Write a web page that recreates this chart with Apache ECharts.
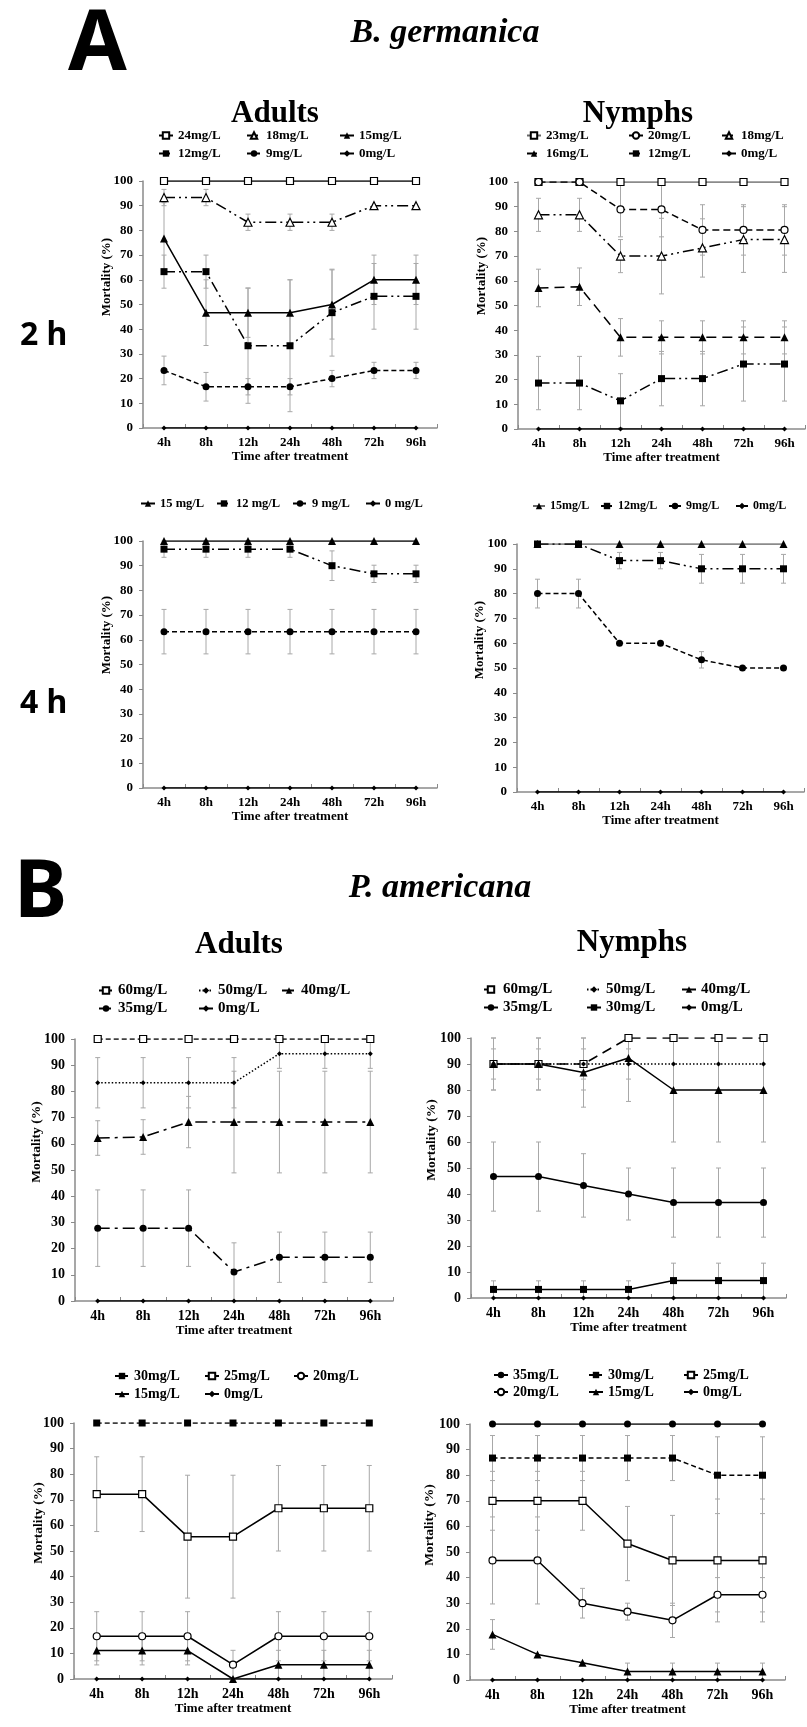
<!DOCTYPE html>
<html><head><meta charset="utf-8">
<script src="https://cdn.jsdelivr.net/npm/echarts@6/dist/echarts.min.js"></script>
<style>html,body{margin:0;padding:0;background:#fff}#c{width:807px;height:1727px}</style>
</head><body><div id="c"></div><script>
// ---------- data ----------
const categories = ['4h','8h','12h','24h','48h','72h','96h'];

// A. B. germanica — Adults, 2 h
const gA2_24 = [100,100,100,100,100,100,100];
const gA2_18 = [93.3,93.3,83.3,83.3,83.3,90,90];
const gA2_18e = [3.3,3.3,3.3,3.3,3.3,0,0];
const gA2_15 = [76.7,46.7,46.7,46.7,50,60,60];
const gA2_15e = [14.5,13.3,10,13.3,14,10,10];
const gA2_12 = [63.3,63.3,33.3,33.3,46.7,53.3,53.3];
const gA2_12e = [6.7,6.7,23.3,26.7,17.6,13.3,13.3];
const gA2_9 = [23.3,16.7,16.7,16.7,20,23.3,23.3];
const gA2_9e = [5.8,5.8,3.3,3.3,3.3,3.3,3.3];
const gA2_0 = [0,0,0,0,0,0,0];

// A. B. germanica — Nymphs, 2 h
const gN2_23 = [100,100,100,100,100,100,100];
const gN2_20 = [100,100,88.9,88.9,80.6,80.6,80.6];
const gN2_20e = [0,0,11.1,11.1,10.2,10.2,10.2];
const gN2_18 = [86.7,86.7,70,70,73.3,76.7,76.7];
const gN2_18e = [6.7,6.7,6.7,15.3,11.8,13.3,13.3];
const gN2_16 = [57.1,57.6,37.1,37.1,37.1,37.1,37.1];
const gN2_16e = [7.6,7.6,7.6,6.7,6.7,6.7,6.7];
const gN2_12 = [18.6,18.6,11.4,20.4,20.4,26.3,26.3];
const gN2_12e = [10.8,10.8,11,11,11,15,15];
const gN2_0 = [0,0,0,0,0,0,0];

// A. B. germanica — Adults, 4 h
const gA4_15 = [100,100,100,100,100,100,100];
const gA4_12 = [96.7,96.7,96.7,96.7,90,86.7,86.7];
const gA4_12e = [3.3,3.3,3.3,3.3,6,3.5,3.5];
const gA4_9 = [63.3,63.3,63.3,63.3,63.3,63.3,63.3];
const gA4_9e = [9,9,9,9,9,9,9];
const gA4_0 = [0,0,0,0,0,0,0];

// A. B. germanica — Nymphs, 4 h
const gN4_15 = [100,100,100,100,100,100,100];
const gN4_12 = [100,100,93.3,93.3,90,90,90];
const gN4_12e = [0,0,3.3,3.3,5.8,5.8,5.8];
const gN4_9 = [80,80,60,60,53.3,50,50];
const gN4_9e = [5.8,5.8,0,0,3.3,0,0];
const gN4_0 = [0,0,0,0,0,0,0];

// B. P. americana — Adults (upper)
const pA1_60 = [100,100,100,100,100,100,100];
const pA1_50 = [83.3,83.3,83.3,83.3,94.4,94.4,94.4];
const pA1_50e = [9.6,9.6,9.6,9.6,5.6,5.6,5.6];
const pA1_40 = [62.2,62.6,68.3,68.3,68.3,68.3,68.3];
const pA1_40e = [6.6,6.6,9.8,19.4,19.4,19.4,19.4];
const pA1_35 = [27.8,27.8,27.8,11.1,16.7,16.7,16.7];
const pA1_35e = [14.6,14.6,14.6,11.1,9.6,9.6,9.6];
const pA1_0 = [0,0,0,0,0,0,0];

// B. P. americana — Nymphs (upper)
const pN1_60 = [90,90,90,100,100,100,100];
const pN1_60e = [10,10,10,0,0,0,0];
const pN1_50 = [90,90,90,90,90,90,90];
const pN1_50e = [5.8,5.8,5.8,5.8,0,0,0];
const pN1_40 = [90,90,86.7,92.3,80,80,80];
const pN1_40e = [10,10,13.3,16.7,20,20,20];
const pN1_35 = [46.7,46.7,43.3,40,36.7,36.7,36.7];
const pN1_35e = [13.3,13.3,12.2,10,13.3,13.3,13.3];
const pN1_30 = [3.3,3.3,3.3,3.3,6.7,6.7,6.7];
const pN1_30e = [3.3,3.3,3.3,3.3,6.7,6.7,6.7];
const pN1_0 = [0,0,0,0,0,0,0];

// B. P. americana — Adults (lower)
const pA2_30 = [100,100,100,100,100,100,100];
const pA2_25 = [72.2,72.2,55.6,55.6,66.7,66.7,66.7];
const pA2_25e = [14.6,14.6,24,24,16.7,16.7,16.7];
const pA2_20 = [16.7,16.7,16.7,5.6,16.7,16.7,16.7];
const pA2_20e = [9.6,9.6,9.6,5.6,9.6,9.6,9.6];
const pA2_15 = [11.1,11.1,11.1,0,5.6,5.6,5.6];
const pA2_15e = [5.6,5.6,5.6,0,5.6,5.6,5.6];
const pA2_0 = [0,0,0,0,0,0,0];

// B. P. americana — Nymphs (lower)
const pN2_35 = [100,100,100,100,100,100,100];
const pN2_30 = [86.7,86.7,86.7,86.7,86.7,80,80];
const pN2_30e = [8.8,8.8,8.8,8.8,8.8,15,15];
const pN2_25 = [70,70,70,53.3,46.7,46.7,46.7];
const pN2_25e = [11.5,11.5,11.5,14.5,17.6,24,24];
const pN2_20 = [46.7,46.7,30,26.7,23.3,33.3,33.3];
const pN2_20e = [17,17,5.8,3.3,6.7,6.7,6.7];
const pN2_15 = [17.8,10,6.7,3.3,3.3,3.3,3.3];
const pN2_15e = [5.8,0,0,3.3,3.3,3.3,3.3];
const pN2_0 = [0,0,0,0,0,0,0];

const yTicks = {min:0, max:100, interval:10};
const xTitle = 'Time after treatment';
const yTitle = 'Mortality (%)';

// ---------- styles ----------
const SERIF = '"Liberation Serif","Times New Roman",serif';
const SANS = '"Noto Sans","DejaVu Sans",sans-serif';
const DASH = {
  solid:'solid', dash:[5,3], dash2:[7,4], longdash:[10,6],
  dashdot:[12,5,3,5], dashdotdot:[11,4,2,4,2,4], dot:[1.5,2]
};
const SYM = {
  sq:{symbol:'rect', size:7, open:false}, osq:{symbol:'rect', size:7, open:true},
  tri:{symbol:'triangle', size:8, open:false}, otri:{symbol:'triangle', size:8, open:true},
  ci:{symbol:'circle', size:7, open:false}, oci:{symbol:'circle', size:7, open:true},
  dia:{symbol:'diamond', size:5, open:false}
};

const panels = [
  {grid:{left:143,top:181,width:294,height:247}, fs:13, lfs:13, iw:14, yName:[107,277],
   legend:[[158,137],[246,137],[339,137],[158,155],[246,155],[339,155]],
   series:[
    {name:'24mg/L', data:gA2_24, sym:'osq', dash:'solid'},
    {name:'18mg/L', data:gA2_18, err:gA2_18e, sym:'otri', dash:'dashdotdot'},
    {name:'15mg/L', data:gA2_15, err:gA2_15e, sym:'tri', dash:'solid'},
    {name:'12mg/L', data:gA2_12, err:gA2_12e, sym:'sq', dash:'dashdotdot'},
    {name:'9mg/L', data:gA2_9, err:gA2_9e, sym:'ci', dash:'dash'},
    {name:'0mg/L', data:gA2_0, sym:'dia', dash:'solid'}]},
  {grid:{left:518,top:182,width:287,height:247}, fs:13, lfs:13, iw:14, yName:[482,276],
   legend:[[526,137],[628,137],[721,137],[526,155],[628,155],[721,155]],
   series:[
    {name:'23mg/L', data:gN2_23, sym:'osq', dash:'solid', color:'#666'},
    {name:'20mg/L', data:gN2_20, err:gN2_20e, sym:'oci', dash:'dash2'},
    {name:'18mg/L', data:gN2_18, err:gN2_18e, sym:'otri', dash:'dashdotdot'},
    {name:'16mg/L', data:gN2_16, err:gN2_16e, sym:'tri', dash:'longdash'},
    {name:'12mg/L', data:gN2_12, err:gN2_12e, sym:'sq', dash:'dashdotdot'},
    {name:'0mg/L', data:gN2_0, sym:'dia', dash:'solid'}]},
  {grid:{left:143,top:541,width:294,height:247}, fs:13, lfs:12.5, iw:14, yName:[107,635],
   legend:[[140,505],[216,505],[292,505],[365,505]],
   series:[
    {name:'15 mg/L', data:gA4_15, sym:'tri', dash:'solid'},
    {name:'12 mg/L', data:gA4_12, err:gA4_12e, sym:'sq', dash:'dashdotdot'},
    {name:'9 mg/L', data:gA4_9, err:gA4_9e, sym:'ci', dash:'dash'},
    {name:'0 mg/L', data:gA4_0, sym:'dia', dash:'solid'}]},
  {grid:{left:517,top:544,width:287,height:248}, fs:13, lfs:12, iw:12, yName:[480,640],
   legend:[[532,508],[600,508],[668,508],[735,508]],
   series:[
    {name:'15mg/L', data:gN4_15, sym:'tri', dash:'solid', color:'#666'},
    {name:'12mg/L', data:gN4_12, err:gN4_12e, sym:'sq', dash:'dashdotdot'},
    {name:'9mg/L', data:gN4_9, err:gN4_9e, sym:'ci', dash:'dash'},
    {name:'0mg/L', data:gN4_0, sym:'dia', dash:'solid'}]},
  {grid:{left:75,top:1039,width:318,height:262}, fs:14, lfs:15, iw:14, yName:[37,1142],
   legend:[[98,991],[198,991],[281,991],[98,1009],[198,1009]],
   series:[
    {name:'60mg/L', data:pA1_60, sym:'osq', dash:'dash'},
    {name:'50mg/L', data:pA1_50, err:pA1_50e, sym:'dia', dash:'dot'},
    {name:'40mg/L', data:pA1_40, err:pA1_40e, sym:'tri', dash:'dashdot'},
    {name:'35mg/L', data:pA1_35, err:pA1_35e, sym:'ci', dash:'dashdot'},
    {name:'0mg/L', data:pA1_0, sym:'dia', dash:'solid'}]},
  {grid:{left:471,top:1038,width:315,height:260}, fs:14, lfs:15, iw:14, yName:[432,1140],
   legend:[[483,990],[586,990],[681,990],[483,1008],[586,1008],[681,1008]],
   series:[
    {name:'60mg/L', data:pN1_60, err:pN1_60e, sym:'osq', dash:'longdash'},
    {name:'50mg/L', data:pN1_50, err:pN1_50e, sym:'dia', dash:'dot'},
    {name:'40mg/L', data:pN1_40, err:pN1_40e, sym:'tri', dash:'solid'},
    {name:'35mg/L', data:pN1_35, err:pN1_35e, sym:'ci', dash:'solid'},
    {name:'30mg/L', data:pN1_30, err:pN1_30e, sym:'sq', dash:'solid'},
    {name:'0mg/L', data:pN1_0, sym:'dia', dash:'solid'}]},
  {grid:{left:74,top:1423,width:318,height:256}, fs:14, lfs:14, iw:14, yName:[39,1523],
   legend:[[114,1377],[204,1377],[293,1377],[114,1395],[204,1395]],
   series:[
    {name:'30mg/L', data:pA2_30, sym:'sq', dash:'dash'},
    {name:'25mg/L', data:pA2_25, err:pA2_25e, sym:'osq', dash:'solid'},
    {name:'20mg/L', data:pA2_20, err:pA2_20e, sym:'oci', dash:'solid'},
    {name:'15mg/L', data:pA2_15, err:pA2_15e, sym:'tri', dash:'solid'},
    {name:'0mg/L', data:pA2_0, sym:'dia', dash:'solid'}]},
  {grid:{left:470,top:1424,width:315,height:256}, fs:14, lfs:14, iw:14, yName:[430,1525],
   legend:[[493,1376],[588,1376],[683,1376],[493,1393],[588,1393],[683,1393]],
   series:[
    {name:'35mg/L', data:pN2_35, sym:'ci', dash:'solid'},
    {name:'30mg/L', data:pN2_30, err:pN2_30e, sym:'sq', dash:'dash'},
    {name:'25mg/L', data:pN2_25, err:pN2_25e, sym:'osq', dash:'solid'},
    {name:'20mg/L', data:pN2_20, err:pN2_20e, sym:'oci', dash:'solid'},
    {name:'15mg/L', data:pN2_15, err:pN2_15e, sym:'tri', dash:'solid'},
    {name:'0mg/L', data:pN2_0, sym:'dia', dash:'solid'}]}
];

// ---------- build option ----------
const AX = '#8a8a8a', EB = '#a8a8a8';
const option = {animation:false, backgroundColor:'#fff', grid:[], xAxis:[], yAxis:[], series:[], legend:[], graphic:[]};

function errRender(params, api){
  const j = api.value(0), v = api.value(1), e = api.value(2);
  if (!e) return null;
  const t = api.coord([j, Math.min(100, v + e)]);
  const b = api.coord([j, Math.max(0, v - e)]);
  const w = 2.5, st = {stroke:EB, lineWidth:1};
  return {type:'group', children:[
    {type:'line', shape:{x1:t[0],y1:t[1],x2:b[0],y2:b[1]}, style:st},
    {type:'line', shape:{x1:t[0]-w,y1:t[1],x2:t[0]+w,y2:t[1]}, style:st},
    {type:'line', shape:{x1:b[0]-w,y1:b[1],x2:b[0]+w,y2:b[1]}, style:st}
  ]};
}

panels.forEach((p, i) => {
  option.grid.push(Object.assign({outerBoundsMode:'none', containLabel:false}, p.grid));
  const lab = {color:'#000', fontFamily:SERIF, fontWeight:'bold', fontSize:p.fs};
  option.xAxis.push({gridIndex:i, type:'category', data:categories, boundaryGap:true,
    axisLine:{lineStyle:{color:AX, width:1.5}},
    axisTick:{show:true, inside:true, length:4, lineStyle:{color:AX}},
    axisLabel:Object.assign({margin:8, interval:0}, lab),
    splitLine:{show:false},
    name:xTitle, nameLocation:'middle', nameGap:22,
    nameTextStyle:{color:'#000', fontFamily:SERIF, fontWeight:'bold', fontSize:13}});
  option.yAxis.push({gridIndex:i, type:'value', min:yTicks.min, max:yTicks.max, interval:yTicks.interval,
    axisLine:{show:true, lineStyle:{color:AX, width:1.5}},
    axisTick:{show:true, inside:false, length:4, lineStyle:{color:AX}},
    axisLabel:Object.assign({margin:10}, lab),
    splitLine:{show:false}});
  p.series.forEach((s, k) => {
    const sy = SYM[s.sym];
    const nm = i + '|' + s.name;
    if (s.err) {
      option.series.push({type:'custom', name:'err' + i + '_' + k, xAxisIndex:i, yAxisIndex:i, silent:true, z:1,
        data:s.data.map((v, j) => [j, v, s.err[j]]), renderItem:errRender,
        encode:{x:0, y:1}});
    }
    option.series.push({type:'line', name:nm, xAxisIndex:i, yAxisIndex:i, data:s.data,
      symbol:sy.symbol, symbolSize:sy.size, showSymbol:true, z:3,
      itemStyle:{color:sy.open ? '#fff' : '#000', borderColor:'#000', borderWidth:sy.open ? 1.2 : 0},
      lineStyle:{color:s.color || '#000', width:1.5, type:DASH[s.dash]},
      emphasis:{disabled:true}, silent:true});
    const pos = p.legend[k];
    option.legend.push({data:[nm], left:pos[0], top:pos[1] - 8, orient:'horizontal', padding:0,
      itemWidth:p.iw, itemHeight:8, itemGap:0, selectedMode:false,
      formatter:(n) => n.split('|')[1],
      textStyle:{color:'#000', fontFamily:SERIF, fontWeight:'bold', fontSize:p.lfs, padding:[0,0,0,0]}});
  });
  option.graphic.push({type:'text', x:p.yName[0], y:p.yName[1], rotation:Math.PI / 2,
    style:{text:yTitle, fill:'#000', font:'bold ' + (p.fs === 14 ? 13.5 : 13) + 'px ' + SERIF, align:'center', verticalAlign:'middle'}});
});

// headings
const headings = [
  {t:'A', x:68, y:46, f:'bold 85px ' + SANS, a:'left'},
  {t:'B', x:14, y:894, f:'bold 80px ' + SANS, a:'left'},
  {t:'B. germanica', x:445, y:33, f:'italic bold 34px ' + SERIF, a:'center'},
  {t:'P. americana', x:440, y:888, f:'italic bold 34px ' + SERIF, a:'center'},
  {t:'Adults', x:275, y:114, f:'bold 31px ' + SERIF, a:'center'},
  {t:'Nymphs', x:638, y:114, f:'bold 31px ' + SERIF, a:'center'},
  {t:'Adults', x:239, y:945, f:'bold 31px ' + SERIF, a:'center'},
  {t:'Nymphs', x:632, y:943, f:'bold 31px ' + SERIF, a:'center'},
  {t:'2 h', x:20, y:336, f:'bold 32px ' + SANS, a:'left'},
  {t:'4 h', x:20, y:704, f:'bold 32px ' + SANS, a:'left'}
];
headings.forEach(h => option.graphic.push({type:'text', x:h.x, y:h.y,
  style:{text:h.t, fill:'#000', font:h.f, align:h.a, verticalAlign:'middle'}}));

const chart = echarts.init(document.getElementById('c'), null, {renderer:'canvas', width:807, height:1727});
chart.setOption(option);
</script></body></html>
